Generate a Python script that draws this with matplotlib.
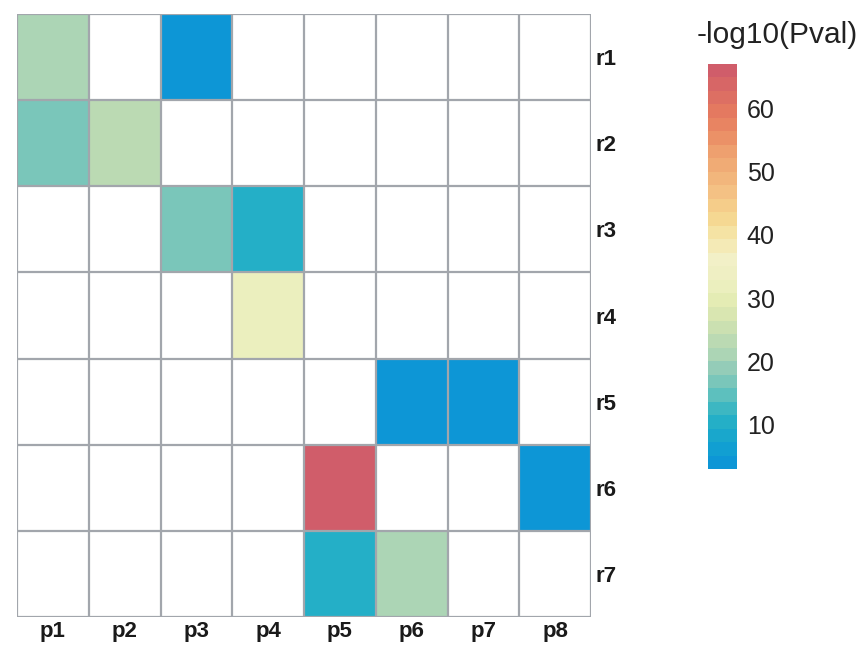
import numpy as np
import matplotlib
matplotlib.use("Agg")
import matplotlib.pyplot as plt
from matplotlib.colors import LinearSegmentedColormap

plt.rcParams['font.family'] = ['Liberation Sans', 'DejaVu Sans']

rows = ["r1", "r2", "r3", "r4", "r5", "r6", "r7"]
cols = ["p1", "p2", "p3", "p4", "p5", "p6", "p7", "p8"]

# -log10(Pval) per cell, nan = empty
nan = np.nan
vals = np.array([
    [21, nan, 3, nan, nan, nan, nan, nan],
    [16.5, 23, nan, nan, nan, nan, nan, nan],
    [nan, nan, 16.5, 10.5, nan, nan, nan, nan],
    [nan, nan, nan, 32, nan, nan, nan, nan],
    [nan, nan, nan, nan, nan, 3, 3, nan],
    [nan, nan, nan, nan, 67, nan, nan, 3],
    [nan, nan, nan, nan, 10.5, 21, nan, nan],
])
vmin, vmax = 3, 67
cbar_ticks = [10, 20, 30, 40, 50, 60]

# colour anchors (value, colour)
anchor_vals = [3, 6, 10, 13, 15, 18, 20, 23, 26, 29, 32, 36, 40, 43, 47, 50, 54, 57, 60, 63, 67]
anchor_cols = ["#0d96d6", "#12a2d0", "#26b0c6", "#4cbcc0", "#6cc4bc", "#8ecab8",
               "#a8d3b6", "#bcdab3", "#d2e3b0", "#e3ebb2", "#ecefbf", "#f2f0c8",
               "#f5e5a8", "#f5d790", "#f4c284", "#f2b37a", "#ee9f6e", "#ea8a63",
               "#e57b60", "#dc6d63", "#d05d6a"]
pos = [(v - vmin) / (vmax - vmin) for v in anchor_vals]
cmap = LinearSegmentedColormap.from_list("pv", list(zip(pos, anchor_cols)), N=30)

fig = plt.figure(figsize=(8.66, 6.47), dpi=100)
ax = fig.add_axes([17/866, 1-617/647, (591-17)/866, (617-14)/647])

data = np.ma.masked_invalid(vals)
mesh = ax.pcolormesh(np.arange(len(cols)+1), np.arange(len(rows)+1), data,
                     cmap=cmap, vmin=vmin, vmax=vmax)
# grid lines over all cells
for i in range(len(cols)+1):
    ax.axvline(i, color="#a2a6ac", lw=1.6)
for j in range(len(rows)+1):
    ax.axhline(j, color="#a2a6ac", lw=1.6)

ax.set_xlim(0, len(cols))
ax.set_ylim(len(rows), 0)
ax.set_xticks(np.arange(len(cols)) + 0.5)
ax.set_xticklabels(cols, fontsize=16, fontweight="bold", color="#1a1a1a")
ax.set_yticks(np.arange(len(rows)) + 0.5)
ax.set_yticklabels(rows, fontsize=16, fontweight="bold", color="#1a1a1a")
ax.yaxis.tick_right()
ax.tick_params(length=0, pad=3)
for s in ax.spines.values():
    s.set_visible(False)

cax = fig.add_axes([708/866, 1-469/647, 29/866, (469-64)/647])
cb = fig.colorbar(mesh, cax=cax, ticks=cbar_ticks)
cb.outline.set_visible(False)
cb.ax.tick_params(length=0, labelsize=18, pad=7, colors="#222222")
fig.text(777/866, 1-35/647, "-log10(Pval)", fontsize=21.5, ha="center", va="center",
         color="#222222")

fig.savefig("out.png", dpi=100)
